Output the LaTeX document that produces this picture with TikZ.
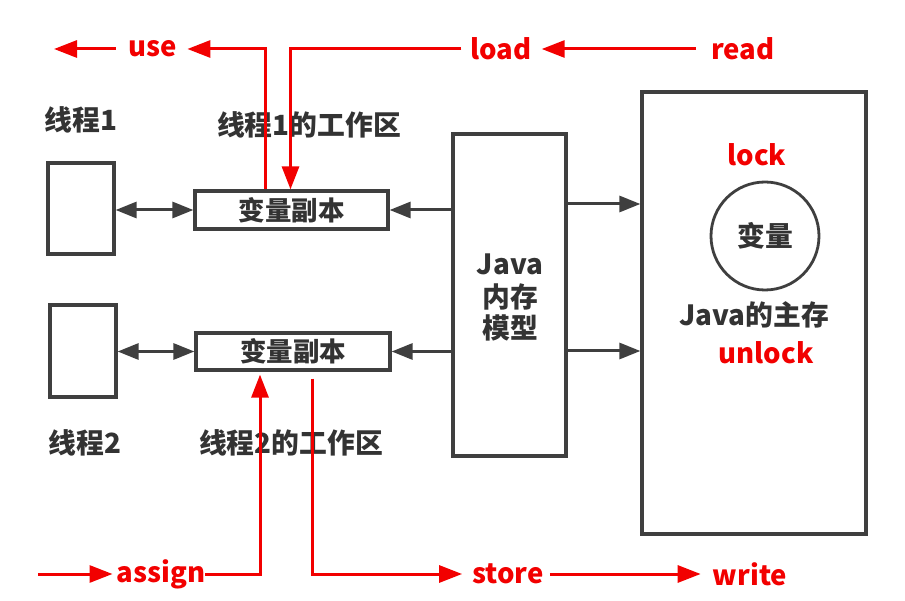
\documentclass[tikz,border=0pt]{standalone}
\usepackage{fontspec}
\setmainfont{Noto Sans CJK SC}
\usetikzlibrary{arrows.meta,calc}
\definecolor{redc}{HTML}{F20000}
\definecolor{grayline}{HTML}{3F3F3F}
\definecolor{txt}{HTML}{333333}
\begin{document}
\begin{tikzpicture}[x=1pt,y=-1pt,
  box/.style={draw=grayline,line width=3.2pt,fill=white,inner sep=0pt},
  lbl/.style={text=txt,font=\fontsize{27.8}{31}\selectfont\bfseries,inner sep=0pt},
  btxt/.style={text=txt,font=\fontsize{26.5}{30}\selectfont\bfseries,inner sep=0pt},
  rl/.style={text=redc,font=\fontsize{27.5}{31}\selectfont\bfseries,inner sep=0pt},
  gar/.style={draw=grayline,line width=3pt,-{Triangle[length=21pt,width=16pt]}},
  gdar/.style={draw=grayline,line width=3pt,{Triangle[length=21pt,width=16pt]}-{Triangle[length=21pt,width=16pt]}},
  rar/.style={draw=redc,line width=3pt,-{Triangle[length=23pt,width=17pt]}},
  rline/.style={draw=redc,line width=3pt}]
\useasboundingbox (0,0) rectangle (905,601);
% boxes
\node[box,minimum width=66pt,minimum height=91pt] (t1) at (81,208.5) {};
\node[box,minimum width=66pt,minimum height=92pt] (t2) at (83,351) {};
\node[box,minimum width=193pt,minimum height=38pt] (v1) at (291.5,210) {};
\node[box,minimum width=194pt,minimum height=37pt] (v2) at (293,351.5) {};
\node[btxt] at (v1) {变量副本};
\node[btxt] at (v2) {变量副本};
\node[box,minimum width=113pt,minimum height=322pt] (jm) at (509.5,295) {};
\node[lbl,align=center] (jmt) at (510,297) {Java\\[2pt]内存\\模型};
\node[box,minimum width=224pt,minimum height=442pt] (mm) at (754,313) {};
\node[draw=grayline,line width=2.8pt,circle,minimum size=108pt,inner sep=0pt] (var) at (765,236) {};
\node[lbl] at (var) {变量};
\node[lbl] (mmt) at (754,315) {Java的主存};
\node[rl] (lock) at (757,155) {lock};
\node[rl] (unlock) at (766,353) {unlock};
% labels
\node[lbl] (l1) at (81,120) {线程1};
\node[lbl] (w1) at (309,125) {线程1的工作区};
\node[lbl] (l2) at (85,443) {线程2};
\node[lbl] (w2) at (291,443) {线程2的工作区};
% grey connectors
\draw[gdar] (t1.east |- v1.west) -- (v1.west);
\draw[gdar] (t2.east |- v2.west) -- (v2.west);
\draw[gar] (jm.west |- v1.east) -- (v1.east);
\draw[gar] (jm.west |- v2.east) -- (v2.east);
\coordinate (up) at (0,204);
\coordinate (dn) at (0,351);
\draw[gar] (jm.east |- up) -- (mm.west |- up);
\draw[gar] (jm.east |- dn) -- (mm.west |- dn);
% red labels
\node[rl] (use) at (153,49) {use};
\node[rl] (load) at (501,49) {load};
\node[rl] (read) at (743,49) {read};
\node[rl] (assign) at (161,574) {assign};
\node[rl] (store) at (508,574) {store};
\node[rl] (write) at (750,574) {write};
\coordinate (uend) at (54,49);
\coordinate (astart) at (38,574);
% red connectors
\draw[rar,shorten <=13pt] (use.west) -- (uend);
\draw[rar,shorten >=10pt] ([xshift=-26pt]v1.north) |- (use.east);
\draw[rar,shorten <=9pt] (load.west) -| ([xshift=-1pt]v1.north);
\draw[rar,shorten <=15pt,shorten >=10pt] (read.west) -- (load.east);
\draw[rar,shorten >=4pt] (astart) -- (assign.west);
\draw[rar,shorten >=3pt] (assign.east) -| ([xshift=-33pt]v2.south);
\draw[rar,shorten <=7pt,shorten >=10pt] ([xshift=19pt]v2.south) |- (store.west);
\draw[rar,shorten <=6pt,shorten >=12pt] (store.east) -- (write.west);
\end{tikzpicture}
\end{document}
